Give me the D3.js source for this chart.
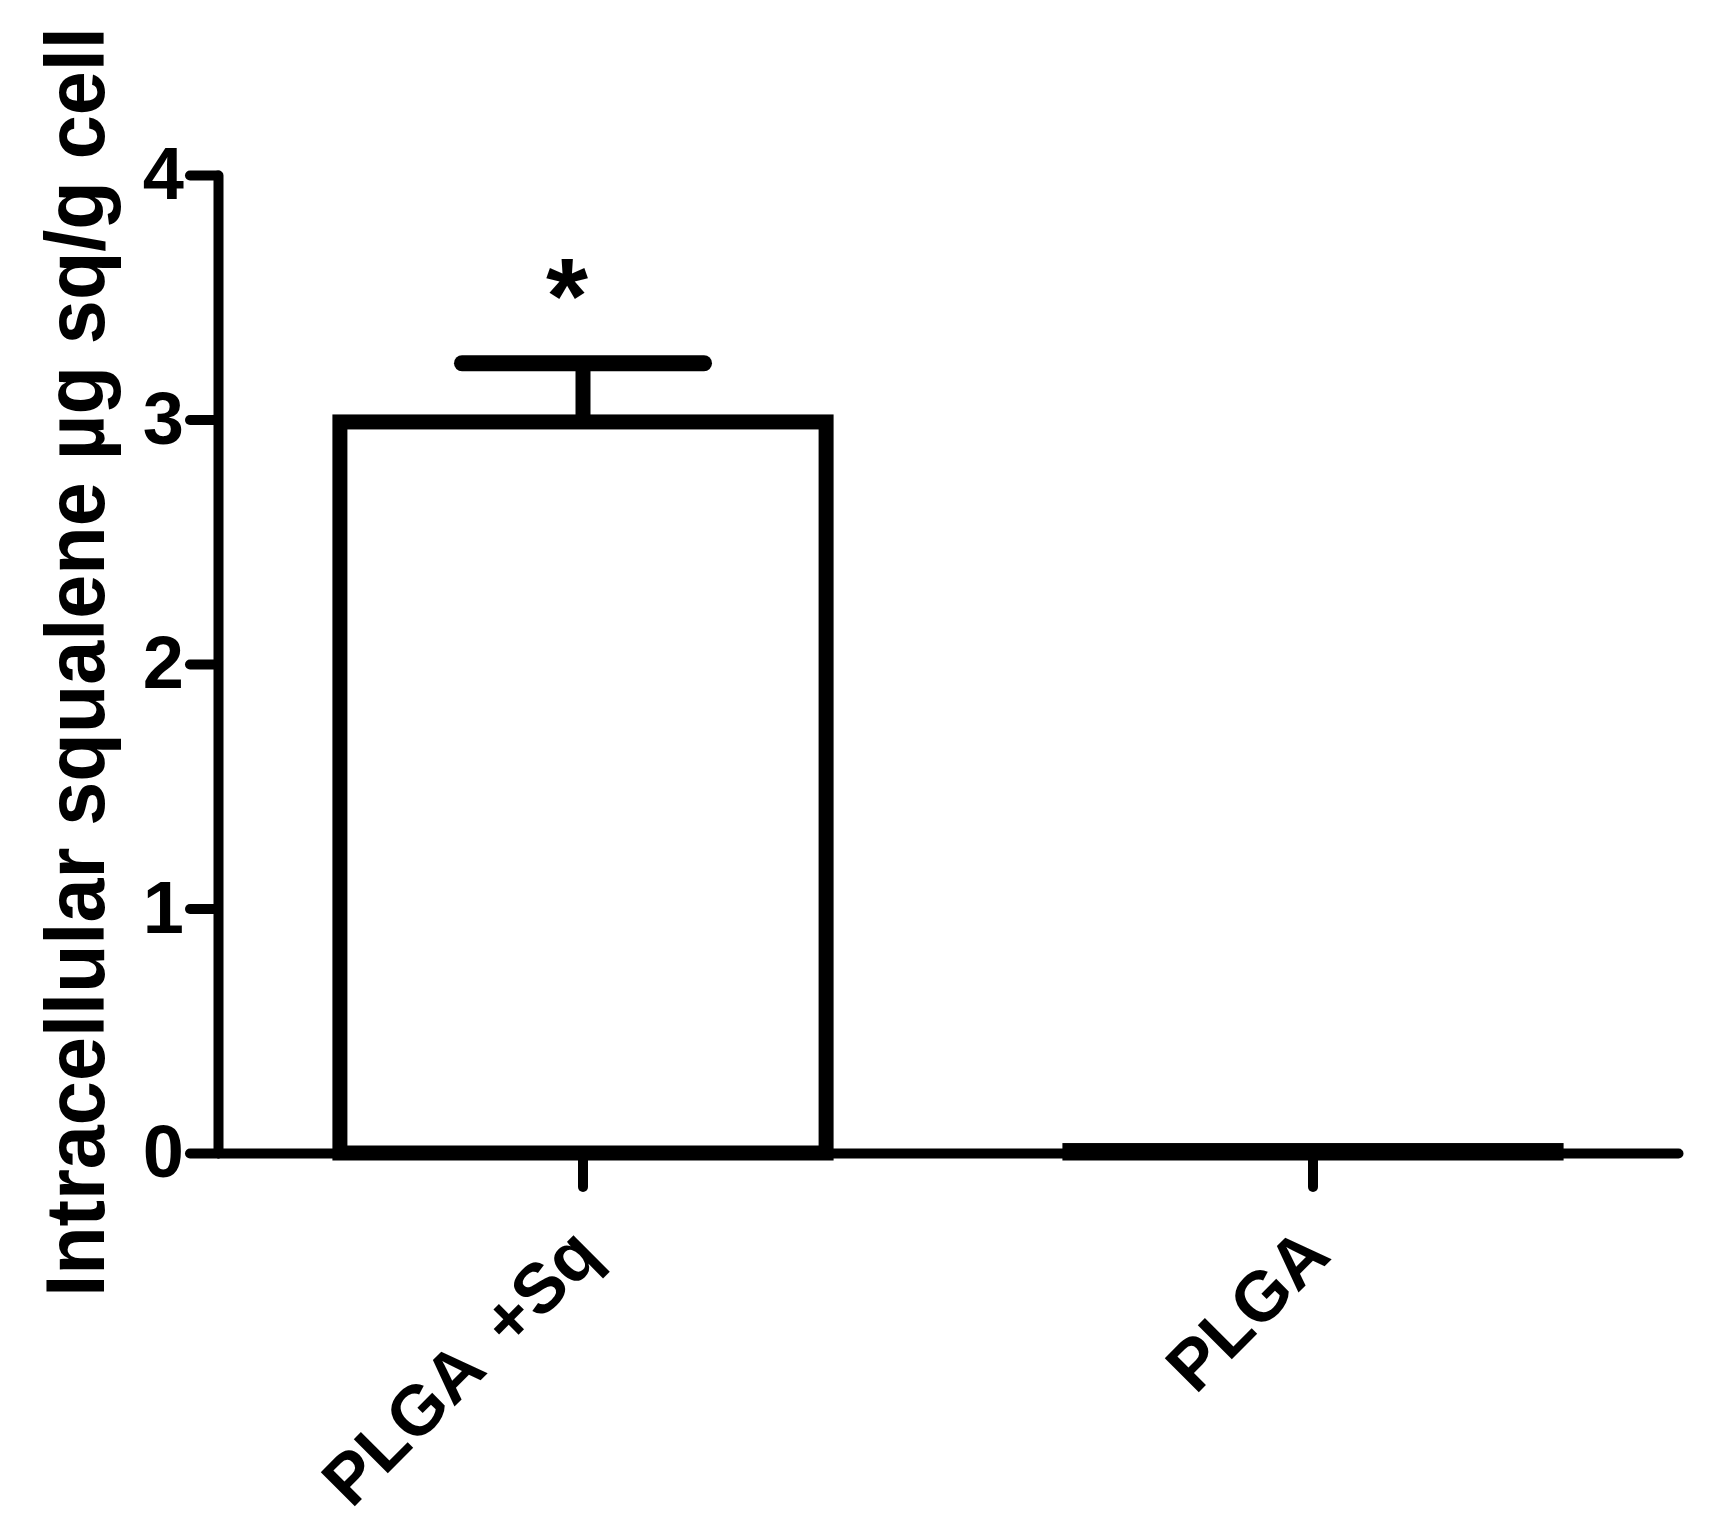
<!DOCTYPE html>
<html>
<head>
<meta charset="utf-8">
<script src="https://cdn.jsdelivr.net/npm/d3@7"></script>
<style>
  body { margin: 0; background: #fff; }
  svg { display: block; }
  text { font-family: "Liberation Sans", Arial, sans-serif; font-weight: bold; fill: #000; }
</style>
</head>
<body>
<svg id="chart" width="1709" height="1538"></svg>
<script>
// chart values
const categories = ['PLGA +Sq', 'PLGA'];
const means = [2.99, 0.01];
const errors = [0.24, 0];
const marks = ['*', ''];
const yTicks = [0, 1, 2, 3, 4];
const yTitle = 'Intracellular squalene µg sq/g cell';

const svg = d3.select('#chart');

const x = d3.scaleBand()
  .domain(categories)
  .range([218, 1678])
  .paddingInner(0.334)
  .paddingOuter(0.167);

const y = d3.scaleLinear()
  .domain([0, 4])
  .range([1153, 175]);

const rows = categories.map((c, i) => ({ c, v: means[i], e: errors[i], m: marks[i] }));

// bars
svg.append('g')
  .selectAll('rect')
  .data(rows)
  .join('rect')
  .attr('x', (d) => x(d.c))
  .attr('width', x.bandwidth())
  .attr('y', (d) => y(d.v))
  .attr('height', (d) => y(0) - y(d.v))
  .attr('fill', '#fff')
  .attr('stroke', '#000')
  .attr('stroke-width', 15);

// upper error bars
const eb = svg.append('g')
  .selectAll('g')
  .data(rows.filter((d) => d.e > 0))
  .join('g');
eb.append('line')
  .attr('x1', (d) => x(d.c) + x.bandwidth() / 2)
  .attr('x2', (d) => x(d.c) + x.bandwidth() / 2)
  .attr('y1', (d) => y(d.v))
  .attr('y2', (d) => y(d.v + d.e))
  .attr('stroke', '#000')
  .attr('stroke-width', 15);
eb.append('line')
  .attr('x1', (d) => x(d.c) + x.bandwidth() / 2 - 121)
  .attr('x2', (d) => x(d.c) + x.bandwidth() / 2 + 121)
  .attr('y1', (d) => y(d.v + d.e))
  .attr('y2', (d) => y(d.v + d.e))
  .attr('stroke', '#000')
  .attr('stroke-width', 16)
  .attr('stroke-linecap', 'round');

// significance marks
svg.append('g')
  .selectAll('text')
  .data(rows.filter((d) => d.m))
  .join('text')
  .attr('x', (d) => x(d.c) + x.bandwidth() / 2 - 16)
  .attr('y', 333)
  .attr('text-anchor', 'middle')
  .style('font-size', '108px')
  .text((d) => d.m);

// y axis
const yAxis = svg.append('g')
  .attr('transform', 'translate(218,0)')
  .call(d3.axisLeft(y).tickValues(yTicks).tickFormat(d3.format('d'))
    .tickSize(28).tickSizeOuter(0).tickPadding(6));
yAxis.select('.domain')
  .attr('stroke-width', 10)
  .attr('stroke-linecap', 'round');
yAxis.selectAll('.tick line')
  .attr('stroke-width', 10)
  .attr('stroke-linecap', 'round');
yAxis.selectAll('.tick text')
  .style('font-size', '74px')
  .style('font-family', '"Liberation Sans", Arial, sans-serif')
  .style('font-weight', 'bold');

// x axis
const xAxis = svg.append('g')
  .attr('transform', `translate(0,${y(0)})`)
  .call(d3.axisBottom(x).tickSize(34).tickSizeOuter(0).tickFormat(''));
xAxis.select('.domain')
  .attr('stroke-width', 10)
  .attr('stroke-linecap', 'round');
xAxis.selectAll('.tick line')
  .attr('stroke-width', 10)
  .attr('stroke-linecap', 'round');
xAxis.selectAll('.tick text').remove();

// rotated category labels
svg.append('g')
  .selectAll('text')
  .data(categories)
  .join('text')
  .attr('transform', (d) => `translate(${x(d) + x.bandwidth() / 2 + 20},${y(0) + 105}) rotate(-45)`)
  .attr('text-anchor', 'end')
  .style('font-size', '70px')
  .style('word-spacing', '14px')
  .text((d) => d);

// y title: condensed tall lettering, font sized to the wanted length, then stretched
const titleLen = 1270;
const title = svg.append('text')
  .attr('text-anchor', 'middle')
  .style('font-size', '84px')
  .text(yTitle);
const natural = title.node().getComputedTextLength();
const fs = 84 * titleLen / natural;
title.style('font-size', `${fs}px`)
  .attr('transform', `translate(104,662) rotate(-90) scale(1,${84 / fs})`);
</script>
</body>
</html>
